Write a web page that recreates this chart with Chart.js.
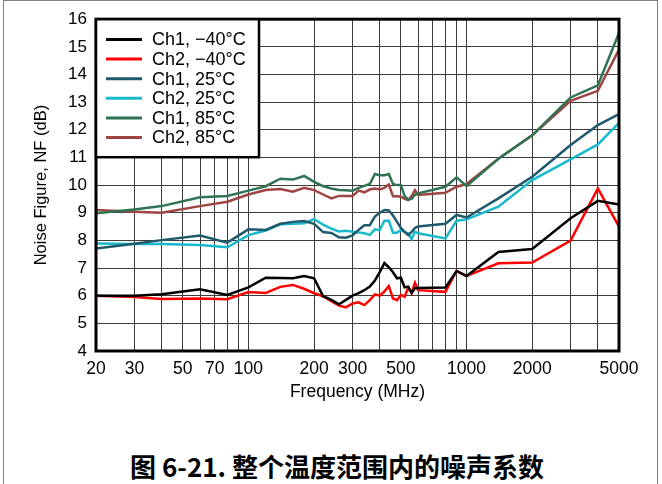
<!DOCTYPE html>
<html>
<head>
<meta charset="utf-8">
<script src="https://cdn.jsdelivr.net/npm/chart.js@4/dist/chart.umd.min.js"></script>
<style>
  html, body { margin: 0; padding: 0; background: #fff; }
  #wrap { position: relative; width: 662px; height: 484px; overflow: hidden; }
  #frame { position: absolute; left: 3px; top: 0; width: 655px; height: 484px;
           border: 1px solid #7f7f7f; border-bottom: none; box-sizing: border-box; }
  #nf { position: absolute; left: 0; top: 0; }
  #caption { position: absolute; left: 0; width: 674px; top: 450px; line-height: 32px;
             text-align: center; font-weight: bold; font-size: 26px;
             font-family: "Noto Sans CJK SC", sans-serif; color: #000; }
</style>
</head>
<body>
<div id="wrap">
  <div id="frame"></div>
  <canvas id="nf" width="662" height="410"></canvas>
  <div id="caption">图 6-21. 整个温度范围内的噪声系数</div>
</div>
<script>
// Measurement frequencies (MHz)
const freqMHz = [20, 30, 40, 60, 80, 100, 120, 140, 160, 180, 200, 220, 240, 260, 280, 300,
  320, 340, 360, 380, 400, 420, 440, 460, 480, 500, 520, 540, 560, 580, 600,
  800, 900, 1000, 1400, 2000, 3000, 4000, 5000];

// Noise figure (dB) per channel and temperature
const ch1Minus40 = [6.0, 6.0, 6.05, 6.23, 6.03, 6.3, 6.65, 6.64, 6.63, 6.71, 6.63, 5.98, 5.85, 5.69, 5.85, 6.0,
  6.09, 6.2, 6.33, 6.55, 6.85, 7.18, 7.03, 6.85, 6.63, 6.65, 6.3, 6.33, 6.1, 6.27, 6.28,
  6.3, 6.89, 6.71, 7.58, 7.69, 8.8, 9.43, 9.3];
const ch2Minus40 = [6.0, 5.95, 5.88, 5.9, 5.87, 6.13, 6.1, 6.32, 6.39, 6.25, 6.09, 5.98, 5.8, 5.64, 5.58, 5.72,
  5.76, 5.66, 5.84, 6.05, 6.0, 6.15, 6.35, 5.9, 5.84, 6.03, 5.96, 6.29, 6.09, 6.47, 6.2,
  6.14, 6.9, 6.72, 7.17, 7.2, 7.99, 9.88, 8.5];
const ch1At25 = [7.71, 7.88, 8.01, 8.18, 7.92, 8.4, 8.38, 8.6, 8.67, 8.7, 8.6, 8.3, 8.27, 8.11, 8.1, 8.18,
  8.38, 8.55, 8.55, 8.86, 9.0, 9.1, 9.08, 8.9, 8.67, 8.45, 8.31, 8.19, 8.31, 8.45, 8.5,
  8.6, 8.92, 8.83, 9.52, 10.3, 11.45, 12.17, 12.57];
const ch2At25 = [7.89, 7.87, 7.87, 7.83, 7.75, 8.19, 8.36, 8.58, 8.6, 8.62, 8.77, 8.57, 8.43, 8.32, 8.35, 8.31,
  8.29, 8.26, 8.2, 8.4, 8.37, 8.71, 8.71, 8.28, 8.28, 8.37, 8.31, 8.25, 8.05, 8.31, 8.26,
  8.07, 8.71, 8.76, 9.22, 10.18, 10.93, 11.47, 12.25];
const ch1At85 = [8.98, 9.12, 9.24, 9.56, 9.61, 9.8, 9.96, 10.23, 10.2, 10.33, 10.12, 9.96, 9.88, 9.82, 9.81, 9.8,
  9.9, 9.97, 10.04, 10.4, 10.36, 10.36, 10.4, 10.04, 10.0, 10.0, 9.6, 9.48, 9.5, 9.65, 9.7,
  9.94, 10.28, 9.96, 10.95, 11.8, 13.17, 13.61, 15.5];
const ch2At85 = [9.1, 9.04, 9.0, 9.24, 9.4, 9.66, 9.82, 9.86, 9.76, 9.9, 9.82, 9.66, 9.52, 9.61, 9.61, 9.61,
  9.8, 9.74, 9.84, 9.88, 9.84, 9.9, 10.02, 9.6, 9.6, 9.58, 9.5, 9.46, 9.6, 9.82, 9.64,
  9.72, 9.94, 10.04, 10.95, 11.8, 13.05, 13.41, 14.9];

const seriesLabels = ['Ch1, \u221240\u00b0C', 'Ch2, \u221240\u00b0C', 'Ch1, 25\u00b0C',
  'Ch2, 25\u00b0C', 'Ch1, 85\u00b0C', 'Ch2, 85\u00b0C'];
const seriesValues = [ch1Minus40, ch2Minus40, ch1At25, ch2At25, ch1At85, ch2At85];
const seriesColors = ['#000000', '#ff0000', '#1e5a6b', '#18b9cd', '#2f7352', '#9e4442'];

// Grid positions on the log axis and the ones that carry a label
const xGridTicks = [20, 30, 40, 50, 60, 70, 80, 90, 100, 200, 300, 400, 500, 600, 700, 800, 900,
  1000, 2000, 3000, 4000, 5000];
const xLabeledTicks = [20, 30, 50, 70, 100, 200, 300, 500, 1000, 2000, 5000];

const FONT = '"Liberation Sans", Arial, sans-serif';

const datasets = seriesLabels.map((label, i) => ({
  label,
  data: freqMHz.map((f, j) => ({ x: f, y: seriesValues[i][j] })),
  borderColor: seriesColors[i],
  backgroundColor: seriesColors[i],
  borderWidth: 2.5,
  pointRadius: 0,
  tension: 0,
  fill: false
}));

// Heavy frame around the plotting area
const plotFrame = {
  id: 'plotFrame',
  afterDatasetsDraw(chart) {
    const { ctx, chartArea: a } = chart;
    ctx.save();
    ctx.strokeStyle = '#000';
    ctx.lineWidth = 3;
    ctx.strokeRect(a.left, a.top, a.right - a.left, a.bottom - a.top);
    ctx.restore();
  }
};

// Boxed legend in the upper-left corner of the plot
const boxLegend = {
  id: 'boxLegend',
  afterDraw(chart) {
    const { ctx, chartArea: a } = chart;
    const x0 = a.left, y0 = a.top, w = 163, h = 138;
    ctx.save();
    ctx.fillStyle = '#fff';
    ctx.fillRect(x0, y0, w, h);
    ctx.strokeStyle = '#000';
    ctx.lineWidth = 2.5;
    ctx.strokeRect(x0, y0, w, h);
    ctx.font = '18px ' + FONT;
    ctx.textBaseline = 'middle';
    ctx.textAlign = 'left';
    chart.data.datasets.forEach((ds, i) => {
      const y = y0 + 20.3 + i * 19.6;
      ctx.strokeStyle = ds.borderColor;
      ctx.lineWidth = 3;
      ctx.beginPath();
      ctx.moveTo(x0 + 10, y);
      ctx.lineTo(x0 + 46, y);
      ctx.stroke();
      ctx.fillStyle = '#000';
      ctx.fillText(ds.label, x0 + 56, y + 1);
    });
    ctx.restore();
  }
};

new Chart(document.getElementById('nf'), {
  type: 'line',
  data: { datasets },
  options: {
    responsive: false,
    animation: false,
    layout: { padding: { top: 19, right: 43, left: 0, bottom: 0 } },
    plugins: { legend: { display: false }, tooltip: { enabled: false } },
    scales: {
      x: {
        type: 'logarithmic',
        min: 20,
        max: 5000,
        afterBuildTicks(scale) { scale.ticks = xGridTicks.map(v => ({ value: v })); },
        afterFit(scale) { scale.height = 59; },
        grid: { color: '#3c3c3c', lineWidth: 1, drawTicks: false },
        border: { display: false },
        ticks: {
          autoSkip: false,
          maxRotation: 0,
          padding: 8,
          color: '#000',
          font: { family: FONT, size: 17.5 },
          callback: (v) => xLabeledTicks.includes(v) ? String(v) : ''
        },
        title: {
          display: true,
          text: 'Frequency (MHz)',
          color: '#000',
          font: { family: FONT, size: 17.5 },
          padding: { top: 0, bottom: 7 }
        }
      },
      y: {
        min: 4,
        max: 16,
        afterFit(scale) { scale.width = 96; },
        grid: { color: '#3c3c3c', lineWidth: 1, drawTicks: false },
        border: { display: false },
        ticks: {
          stepSize: 1,
          padding: 9,
          color: '#000',
          font: { family: FONT, size: 17 }
        },
        title: {
          display: true,
          text: 'Noise Figure, NF (dB)',
          color: '#000',
          font: { family: FONT, size: 16.5 },
          padding: { top: 32, bottom: 0 }
        }
      }
    }
  },
  plugins: [plotFrame, boxLegend]
});
</script>
</body>
</html>
